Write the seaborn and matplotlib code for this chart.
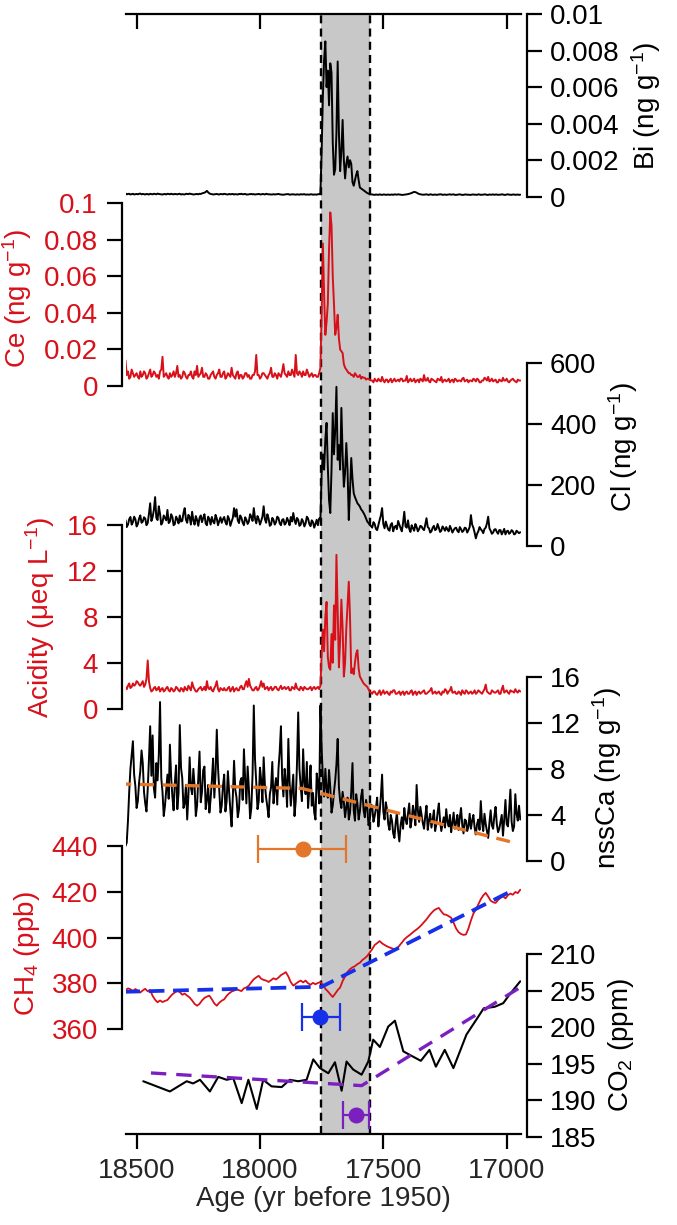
import numpy as np
import pandas as pd
import matplotlib
matplotlib.use("Agg")
import matplotlib.pyplot as plt
import seaborn as sns

# ---------------- data ----------------
age_start, age_step, n_pts = 18545, 10, 161          # common sampling grid (yr BP)
age_grid = age_start - age_step * np.arange(n_pts)
age_mid = age_grid[:-1] - age_step / 2               # in-between samples

# Bi (1e-3 ng/g): grid values and in-between values
bi_milli = [
    0.18,0.15,0.12,0.16,0.14,0.13,0.17,0.15,0.12,0.14,0.16,0.13,0.15,0.17,0.14,0.12,0.15,0.16,0.13,0.14,
    0.15,0.13,0.16,0.14,0.12,0.15,0.17,0.14,0.13,0.15,0.16,0.18,0.22,0.32,0.18,0.14,0.13,0.15,0.12,0.14,
    0.16,0.13,0.15,0.14,0.12,0.13,0.15,0.16,0.14,0.12,0.13,0.15,0.14,0.13,0.15,0.12,0.14,0.16,0.13,0.12,
    0.14,0.13,0.15,0.12,0.11,0.13,0.14,0.12,0.13,0.11,0.12,0.14,0.13,0.11,0.12,0.13,0.11,0.12,0.14,0.2,
    5.5,8.5,6.9,7.3,3.0,1.5,7.4,1.4,4.2,1.0,2.2,2.0,0.8,0.9,1.4,0.5,0.4,0.3,0.2,0.15,
    0.12,0.1,0.11,0.13,0.1,0.12,0.11,0.1,0.12,0.13,0.11,0.12,0.1,0.11,0.13,0.16,0.2,0.26,0.22,0.15,
    0.12,0.11,0.13,0.1,0.12,0.11,0.1,0.12,0.13,0.11,0.1,0.12,0.11,0.13,0.1,0.12,0.11,0.1,0.12,0.11,
    0.1,0.12,0.11,0.13,0.1,0.11,0.12,0.1,0.11,0.13,0.12,0.1,0.11,0.12,0.1,0.13,0.11,0.12,0.1,0.12,
    0.11]
bi_milli_mid = [
    0.13,0.16,0.14,0.12,0.15,0.16,0.13,0.14,0.15,0.12,0.14,0.16,0.13,0.15,0.13,0.14,0.12,0.15,0.16,0.13,
    0.14,0.15,0.12,0.13,0.16,0.14,0.15,0.12,0.14,0.13,0.15,0.2,0.26,0.24,0.15,0.12,0.14,0.13,0.15,0.13,
    0.14,0.12,0.13,0.15,0.14,0.12,0.14,0.13,0.15,0.12,0.14,0.13,0.12,0.14,0.13,0.15,0.12,0.14,0.13,0.12,
    0.12,0.14,0.13,0.11,0.12,0.14,0.11,0.13,0.12,0.13,0.11,0.12,0.14,0.12,0.11,0.13,0.12,0.11,0.13,2.5,
    7.5,6.0,5.0,6.8,1.2,3.5,3.5,2.5,2.0,1.8,1.6,1.8,0.6,1.2,0.9,0.45,0.35,0.25,0.17,0.13,
    0.11,0.12,0.1,0.11,0.12,0.1,0.12,0.11,0.1,0.12,0.13,0.11,0.1,0.12,0.14,0.18,0.24,0.25,0.18,0.13,
    0.11,0.12,0.11,0.13,0.1,0.12,0.11,0.13,0.1,0.12,0.11,0.13,0.12,0.1,0.11,0.13,0.1,0.12,0.11,0.1,
    0.12,0.11,0.1,0.12,0.11,0.13,0.1,0.12,0.11,0.1,0.12,0.11,0.13,0.1,0.12,0.11,0.1,0.12,0.11,0.1]

# Ce (1e-3 ng/g)
ce_milli = [
    14,8,5,7,6,5,8,6,7,5,9,6,7,6,8,16,6,5,7,6,
    5,11,6,5,7,4,6,5,8,11,6,10,5,6,4,7,5,6,9,5,
    8,5,6,10,5,7,4,6,5,7,6,4,6,17,6,5,7,5,6,10,
    5,6,7,5,12,6,8,6,7,17,6,7,8,6,7,6,5,6,5,10,
    78,28,45,95,60,28,39,20,18,10,8,7,6,7,5,6,5,4.5,4,3.5,
    3,4,2.5,3,5,2,3.5,3,2,4,3,2.5,4,3,5.5,3,2.5,4,3,2,
    3.5,6,3,2.5,4,3,2,3.5,5,3,2.5,4,3,2,3.5,3,2.5,4.5,3,2,
    3,4,2.5,3.5,2,3,4,5,3,2.5,3.5,2,3,4.5,3,2.5,3,4,2.5,3.5,
    3]
ce_milli_mid = [
    6,4,9,5,7,4,5,8,4,7,5,8,5,4,9,5,7,4,5,8,
    7,5,4,8,5,6,8,4,6,5,7,5,7,4,6,8,4,7,5,7,
    4,7,5,6,4,8,6,4,7,5,4,6,8,6,4,7,6,4,7,5,
    7,4,6,8,7,5,6,9,5,7,8,5,6,9,5,7,6,5,7,40,
    50,35,75,88,45,32,26,19,12,9,7,6,5,6,5,4,4.5,3.5,3.8,3,
    2,3,4,2.5,3,3.5,2,4,3,2.5,3.5,4,2.5,3,2,4,3,2,3.5,4,
    2.5,3,4.5,2,3.5,2.5,4,3,2,3.5,3,2,3.5,4,2.5,3,4,2.5,3.5,3,
    2.5,3.5,4,2,3,4.5,3,2.5,4,3,2,3.5,2.5,3,4,2,3.5,3,2,3]

# Cl (ng/g)
cl_vals = [
    85,70,95,78,88,72,100,80,90,75,140,95,160,85,105,78,92,118,80,95,
    72,88,100,82,124,76,95,112,70,85,92,78,104,68,88,95,74,90,82,76,
    95,70,88,80,124,120,75,92,68,86,80,96,124,74,88,82,130,76,90,70,
    85,78,92,68,88,75,82,95,108,72,86,70,80,74,90,65,78,72,68,90,
    300,350,260,108,435,380,282,250,300,240,250,180,220,160,140,129,115,100,80,70,
    60,72,52,85,124,58,66,50,75,62,55,70,48,112,60,56,68,50,62,55,
    64,52,91,58,48,66,55,60,50,58,62,48,56,52,60,45,55,50,58,52,
    101,60,25,48,55,42,60,96,50,44,55,40,52,46,38,50,44,48,40,46,
    45]
cl_mid = [
    62,88,70,96,64,90,76,94,68,105,82,118,92,130,70,100,84,75,104,68,
    96,74,80,108,86,102,70,84,98,66,100,92,74,96,70,80,102,68,94,88,
    78,98,66,92,96,84,100,76,94,72,104,82,90,98,70,96,88,104,66,92,
    70,96,74,86,70,92,68,80,84,92,66,88,64,96,72,84,60,86,90,239,
    250,403,150,250,300,521,330,452,194,337,85,288,173,150,135,120,108,90,75,65,
    78,56,68,100,72,80,54,70,48,66,82,58,76,64,84,46,58,72,48,66,
    56,70,62,44,60,52,72,46,64,50,54,66,44,58,50,62,46,60,44,62,
    70,44,40,62,50,56,74,58,40,54,46,52,38,56,48,40,52,38,50,42]

# Acidity (ueq/L)
acid_vals = [
    1.9,2.0,1.8,2.2,2.1,2.3,2.0,2.4,2.1,4.2,1.8,1.6,1.9,1.7,1.5,1.8,1.6,1.9,1.5,1.7,
    1.6,1.8,1.5,1.7,1.9,1.6,1.8,2.3,1.7,1.5,1.8,1.6,1.9,2.4,1.7,1.6,1.8,2.4,1.5,1.7,
    1.8,1.6,1.9,1.7,1.5,1.8,1.6,2.0,1.7,2.4,2.6,1.8,1.6,1.9,1.7,2.4,2.2,1.8,1.6,1.9,
    1.7,1.9,1.6,2.0,1.8,1.7,1.9,1.6,1.8,2.2,1.7,1.9,1.6,1.8,1.7,1.9,1.8,1.7,1.9,2.0,
    6.9,8.0,4.5,3.4,4.0,6.0,8.5,6.0,7.0,4.0,9.0,8.0,3.5,4.0,5.1,2.8,2.4,2.1,1.9,1.5,
    1.3,1.5,1.2,1.6,1.4,1.3,1.5,1.2,1.4,1.6,1.3,1.5,1.4,1.2,1.5,1.3,1.6,1.4,1.2,1.5,
    1.4,1.6,1.3,1.5,1.8,1.4,1.3,1.5,1.2,1.4,1.6,1.5,1.9,1.4,1.3,1.5,1.2,1.4,1.6,1.3,
    1.5,1.4,1.3,1.6,1.4,1.5,2.1,1.4,1.3,1.5,1.4,1.6,1.3,2.0,1.5,1.4,1.6,1.5,1.7,1.4,
    1.5]
acid_mid = [
    1.7,2.2,1.9,2.0,2.4,2.1,2.2,1.9,2.6,2.4,1.5,1.8,1.6,1.9,1.7,1.5,1.8,1.6,1.8,1.5,
    1.9,1.6,1.8,1.5,1.7,2.0,1.6,1.9,1.5,1.7,1.9,1.7,1.6,1.8,1.9,1.5,2.0,1.7,1.8,1.6,
    1.6,1.8,1.5,1.9,1.7,1.6,1.9,1.7,2.1,1.9,2.0,1.6,1.8,1.6,2.0,1.9,1.7,1.9,1.8,1.6,
    1.9,1.7,1.8,1.7,1.9,1.8,1.6,1.9,1.7,1.8,1.6,1.8,1.9,1.7,1.8,1.6,1.9,1.8,1.7,4.8,
    5.0,9.3,3.6,6.5,9.0,13.4,3.6,9.5,2.8,7.0,11.06,3.1,3.0,4.8,3.5,2.6,2.2,2.0,1.7,1.4,
    1.5,1.3,1.4,1.2,1.6,1.4,1.3,1.5,1.6,1.3,1.4,1.2,1.5,1.4,1.3,1.5,1.2,1.5,1.4,1.3,
    1.5,1.3,1.4,1.6,1.3,1.5,1.4,1.3,1.5,1.7,1.3,1.6,1.4,1.5,1.3,1.4,1.6,1.3,1.5,1.4,
    1.3,1.6,1.4,1.5,1.3,1.7,1.5,1.3,1.6,1.4,1.5,1.3,1.7,1.4,1.6,1.3,1.5,1.4,1.5,1.6]

# nssCa (ng/g)
nssca_vals = [
    1.3,3.5,8.0,10.4,6.5,5.2,7.8,8.5,5.0,6.2,11.7,10.9,5.5,7.0,13.8,6.0,4.8,7.5,10.1,5.6,
    6.8,4.5,11.8,7.2,5.0,3.6,9.0,5.8,6.5,4.8,9.5,6.0,8.2,5.3,4.2,7.0,5.5,11.4,6.2,4.8,
    7.5,5.2,6.0,3.0,8.7,5.5,4.5,7.2,9.7,5.0,6.3,4.6,13.5,6.8,5.2,7.0,9.0,5.5,3.8,6.4,
    5.0,7.2,8.0,11.7,5.6,6.8,10.6,4.8,7.5,5.2,12.9,6.5,9.7,5.8,4.6,8.3,5.9,3.6,6.8,13.5,
    7.2,8.0,5.5,6.4,4.8,7.0,10.6,5.2,6.0,3.8,5.5,4.2,8.5,3.5,5.0,4.3,6.2,3.8,4.6,3.5,
    4.8,3.9,5.5,4.2,7.5,3.6,4.5,2.7,3.5,2.0,4.2,1.7,3.8,4.6,3.2,5.0,3.6,4.2,6.6,3.4,
    4.0,2.8,4.8,3.5,2.9,4.4,3.2,5.0,2.6,3.8,4.5,3.0,2.5,4.2,3.3,2.7,4.6,2.4,3.5,3.0,
    2.8,4.0,2.3,3.6,5.2,2.6,3.2,2.0,4.4,2.8,4.7,2.5,3.4,2.2,5.3,3.0,6.2,2.6,5.8,3.5,
    3.6]
nssca_mid = [
    1.6,6.0,9.2,7.5,4.6,6.8,9.6,6.0,4.3,8.8,7.4,6.3,8.5,9.2,7.2,3.9,6.1,5.4,7.3,4.4,
    8.3,5.9,8.1,4.6,6.6,5.7,6.4,8.0,3.9,7.2,5.1,7.9,4.5,6.6,5.4,8.9,7.6,8.1,4.2,6.5,
    4.3,7.8,4.4,5.6,6.2,3.8,6.9,5.3,7.1,8.2,3.7,7.5,8.8,4.5,8.1,5.1,6.6,4.7,5.8,8.6,
    6.3,4.9,9.5,7.2,8.0,4.7,6.9,6.1,3.9,8.4,8.0,5.2,6.8,8.6,6.3,4.8,4.2,7.6,5.0,9.8,
    5.6,6.3,7.9,4.2,6.0,8.4,6.4,4.6,5.1,4.7,3.6,6.0,4.4,5.8,3.6,5.6,4.4,5.3,3.1,4.9,
    3.4,4.6,3.0,5.6,4.3,5.1,3.2,4.0,2.4,3.3,2.6,3.1,2.8,3.6,4.1,2.9,4.8,3.1,4.4,4.7,
    3.3,3.9,2.7,4.1,3.6,2.6,4.2,3.5,3.2,2.9,3.4,4.0,3.3,2.8,4.0,3.8,3.1,3.6,2.6,4.1,
    3.5,2.9,3.2,2.7,3.4,4.1,2.6,3.3,3.1,3.9,3.2,2.8,4.0,3.6,3.2,4.4,3.4,3.0,4.1,4.8]

# CH4 (ppb)
ch4_vals = [
    377.0,377.8,377.4,376.6,377.5,376.8,376.0,376.9,377.6,376.5,
    377.0,374.5,372.8,371.7,372.5,371.8,372.3,372.7,374.0,375.2,
    376.0,376.8,376.2,375.0,375.5,374.6,373.8,372.5,371.0,370.2,
    371.0,372.5,373.6,374.2,374.6,373.0,371.2,370.2,371.5,372.4,
    373.0,374.5,375.6,376.4,376.8,377.5,377.0,376.6,377.8,378.2,
    379.0,380.5,381.8,382.6,383.3,382.0,381.5,381.2,380.6,381.4,
    382.2,381.7,382.5,383.6,384.2,384.9,383.0,380.5,379.0,379.8,
    380.6,381.2,380.4,381.2,380.0,379.4,380.2,379.6,380.2,380.5,
    379.5,377.6,376.5,375.2,374.0,375.5,377.0,378.2,381.0,383.0,
    385.0,386.2,387.0,387.5,388.4,389.0,390.2,391.0,392.0,393.5,
    395.0,396.8,397.6,398.5,397.5,396.8,396.2,395.7,395.3,395.0,
    395.0,396.5,397.8,399.2,400.2,401.0,401.9,402.8,403.6,404.5,
    405.6,406.8,408.0,409.5,410.8,411.9,412.6,413.0,411.5,410.2,
    410.0,409.4,408.7,406.5,404.0,402.4,401.6,401.2,401.4,404.0,
    407.5,410.5,412.3,414.6,416.8,418.5,419.6,418.0,416.2,415.5,
    415.2,416.5,417.4,418.1,417.2,418.6,419.3,418.8,420.0,419.5,
    421.0]

# CO2 (ppm), irregular sampling
co2_age = [18473,18419,18365,18297,18271,18243,18203,18169,18135,18108,18074,18047,18013,17987,
           17953,17912,17879,17845,17811,17784,17757,17723,17696,17669,17649,17622,17588,17561,
           17541,17514,17480,17453,17419,17392,17348,17313,17287,17251,17216,17163,17120,17093,
           17049,17014,16988,16945]
co2_vals = [192.6,191.9,191.2,192.6,192.3,192.8,191.2,193.2,192.8,193.0,189.6,192.8,188.8,192.8,
            191.9,191.8,192.8,192.6,192.8,195.6,194.4,193.7,195.2,191.3,195.3,194.2,193.5,195.3,
            198.3,197.3,200.1,200.9,196.7,196.2,195.4,196.9,194.6,196.9,194.4,199.0,201.2,202.6,
            202.8,203.3,204.5,206.3]

# breakpoint fits
nssca_fit_age = [18545, 17830, 16987]
nssca_fit_val = [6.68, 6.3, 1.68]
ch4_fit_age = [18545, 17750, 16996]
ch4_fit_val = [376.3, 378.5, 419.6]
co2_fit_age = [18473, 17588, 16953]
co2_fit_val = [193.8, 192.0, 205.3]

# breakpoint ages with uncertainty (center, older, younger) and plotting level
nssca_bp = (17827, 18003, 17645, 1.0)
ch4_bp = (17757, 17837, 17683, 365.4)
co2_bp = (17611, 17663, 17560, 188.0)

event_span = (17753, 17555)


def merged(vals, mids, scale=1.0):
    a = np.concatenate([age_grid, age_mid])
    v = np.concatenate([np.asarray(vals, float), np.asarray(mids, float)]) * scale
    order = np.argsort(-a)
    return pd.DataFrame({"age": a[order], "val": v[order]})


# ---------------- styling ----------------
sns.set_theme(style="white")
plt.rcParams["font.family"] = ["Liberation Sans", "DejaVu Sans"]
plt.rcParams["mathtext.fontset"] = "custom"
plt.rcParams["mathtext.rm"] = "Liberation Sans"
plt.rcParams["mathtext.it"] = "Liberation Sans:italic"
plt.rcParams["mathtext.bf"] = "Liberation Sans:bold"

RED = "#D8101A"
ORANGE = "#E2762A"
BLUE = "#1530E8"
PURPLE = "#7A1FC0"
GRAY = "#C8C8C8"
TICK_FS = 20
LAB_FS = 20
SPW = 1.6
TLEN = 10.5

W, H = 677, 1225
fig = plt.figure(figsize=(W / 100, H / 100), dpi=100)
X_L, X_R = 125.5, 520.5
XLIM = (18545, 16944)


def add_ax(y_top, y_bot):
    ax = fig.add_axes([X_L / W, 1 - y_bot / H, (X_R - X_L) / W, (y_bot - y_top) / H])
    ax.set_facecolor("none")
    ax.set_xlim(*XLIM)
    for s in ax.spines.values():
        s.set_visible(False)
    ax.grid(False)
    return ax


def style_y(ax, side, lo, hi, ticks, labels, label, color, label_y=0.5):
    ax.set_ylim(lo, hi)
    ax.set_yticks(ticks)
    ax.set_yticklabels(labels)
    ax.xaxis.set_visible(False)
    sp = ax.spines[side]
    sp.set_visible(True)
    sp.set_color("black")
    sp.set_linewidth(SPW)
    if side == "left":
        sp.set_position(("outward", 2.3))
        ax.tick_params(axis="y", left=True, right=False, labelleft=True, labelright=False,
                       direction="out", length=TLEN, width=SPW, color="black",
                       labelsize=TICK_FS, labelcolor=color, pad=7)
    else:
        sp.set_position(("outward", 4.7))
        ax.yaxis.set_label_position("right")
        ax.yaxis.tick_right()
        ax.tick_params(axis="y", left=False, right=True, labelleft=False, labelright=True,
                       direction="out", length=TLEN, width=SPW, color="black",
                       labelsize=TICK_FS, labelcolor=color, pad=6)
    ax.set_ylabel(label, color=color, fontsize=LAB_FS, labelpad=7)
    ax.yaxis.label.set_y(label_y)


# background axes with shading, event lines and age axis
bg = add_ax(14, 1134)
bg.set_ylim(0, 1)
bg.set_yticks([])
bg.axvspan(event_span[0], event_span[1], color=GRAY, lw=0, zorder=0)
for a in event_span:
    bg.axvline(a, color="black", lw=1.7, dashes=(3.4, 2.2), zorder=1)
bg.spines["bottom"].set_visible(True)
bg.spines["bottom"].set_linewidth(SPW)
bg.spines["bottom"].set_color("black")
xt = [18500, 18000, 17500, 17000]
bg.set_xticks(xt)
bg.set_xticklabels([str(v) for v in xt])
bg.tick_params(axis="x", bottom=True, direction="out", length=TLEN, width=SPW,
               color="black", labelsize=20, pad=7)
bg.set_xlabel("Age (yr before 1950)", fontsize=LAB_FS, labelpad=1)
top = bg.secondary_xaxis("top")
top.set_xticks(xt)
top.tick_params(axis="x", direction="in", length=TLEN, width=SPW, color="black", labeltop=False)
top.spines["top"].set_linewidth(SPW)
top.spines["top"].set_color("black")

lw = 1.4

# Bi
ax = add_ax(14, 196.7)
d = merged(bi_milli, bi_milli_mid, 1e-3)
sns.lineplot(data=d, x="age", y="val", ax=ax, color="black", lw=lw)
style_y(ax, "right", 0, 0.01, [0, 0.002, 0.004, 0.006, 0.008, 0.01],
        ["0", "0.002", "0.004", "0.006", "0.008", "0.01"],
        r"Bi (ng g$^{\mathregular{-1}}$)", "black", 0.5)

# Ce
ax = add_ax(203.3, 386)
d = merged(ce_milli, ce_milli_mid, 1e-3)
sns.lineplot(data=d, x="age", y="val", ax=ax, color=RED, lw=lw)
style_y(ax, "left", 0, 0.1, [0, 0.02, 0.04, 0.06, 0.08, 0.1],
        ["0", "0.02", "0.04", "0.06", "0.08", "0.1"],
        r"Ce (ng g$^{\mathregular{-1}}$)", RED, 0.48)

# Cl
ax = add_ax(362.7, 546)
d = merged(cl_vals, cl_mid)
sns.lineplot(data=d, x="age", y="val", ax=ax, color="black", lw=lw)
style_y(ax, "right", 0, 600, [0, 200, 400, 600], ["0", "200", "400", "600"],
        r"Cl (ng g$^{\mathregular{-1}}$)", "black", 0.54)

# Acidity
ax = add_ax(525, 708.7)
d = merged(acid_vals, acid_mid)
sns.lineplot(data=d, x="age", y="val", ax=ax, color=RED, lw=lw)
style_y(ax, "left", 0, 16, [0, 4, 8, 12, 16], ["0", "4", "8", "12", "16"],
        r"Acidity (μeq L$^{\mathregular{-1}}$)", RED, 0.5)

# nssCa
ax = add_ax(676.7, 861)
d = merged(nssca_vals, nssca_mid)
sns.lineplot(data=d, x="age", y="val", ax=ax, color="black", lw=lw)
sns.lineplot(x=nssca_fit_age, y=nssca_fit_val, ax=ax, color=ORANGE, lw=2.4,
             linestyle=(0, (4.2, 2.6)))
c, o, y_, v = nssca_bp
ax.errorbar([c], [v], xerr=[[o - c], [c - y_]], fmt="o", color=ORANGE, ms=10.5,
            elinewidth=1.6, capsize=10, capthick=1.6, clip_on=False)
style_y(ax, "right", 0, 16, [0, 4, 8, 12, 16], ["0", "4", "8", "12", "16"],
        r"nssCa (ng g$^{\mathregular{-1}}$)", "black", 0.45)

# CH4
ax = add_ax(846.3, 1029)
sns.lineplot(x=age_grid, y=ch4_vals, ax=ax, color=RED, lw=1.3)
sns.lineplot(x=ch4_fit_age, y=ch4_fit_val, ax=ax, color=BLUE, lw=2.7,
             linestyle=(0, (4.2, 2.3)))
c, o, y_, v = ch4_bp
ax.errorbar([c], [v], xerr=[[o - c], [c - y_]], fmt="o", color=BLUE, ms=10.5,
            elinewidth=1.6, capsize=10, capthick=1.6, clip_on=False)
style_y(ax, "left", 360, 440, [360, 380, 400, 420, 440], ["360", "380", "400", "420", "440"],
        r"CH$_{\mathregular{4}}$ (ppb)", RED, 0.41)

# CO2
ax = add_ax(954.3, 1136.7)
sns.lineplot(x=co2_age, y=co2_vals, ax=ax, color="black", lw=1.5)
sns.lineplot(x=co2_fit_age, y=co2_fit_val, ax=ax, color=PURPLE, lw=2.4,
             linestyle=(0, (4.6, 3.0)))
c, o, y_, v = co2_bp
ax.errorbar([c], [v], xerr=[[o - c], [c - y_]], fmt="o", color=PURPLE, ms=10.5,
            elinewidth=1.6, capsize=10, capthick=1.6, clip_on=False)
style_y(ax, "right", 185, 210, [185, 190, 195, 200, 205, 210],
        ["185", "190", "195", "200", "205", "210"],
        r"CO$_{\mathregular{2}}$ (ppm)", "black", 0.5)

fig.savefig("out.png", dpi=100)
